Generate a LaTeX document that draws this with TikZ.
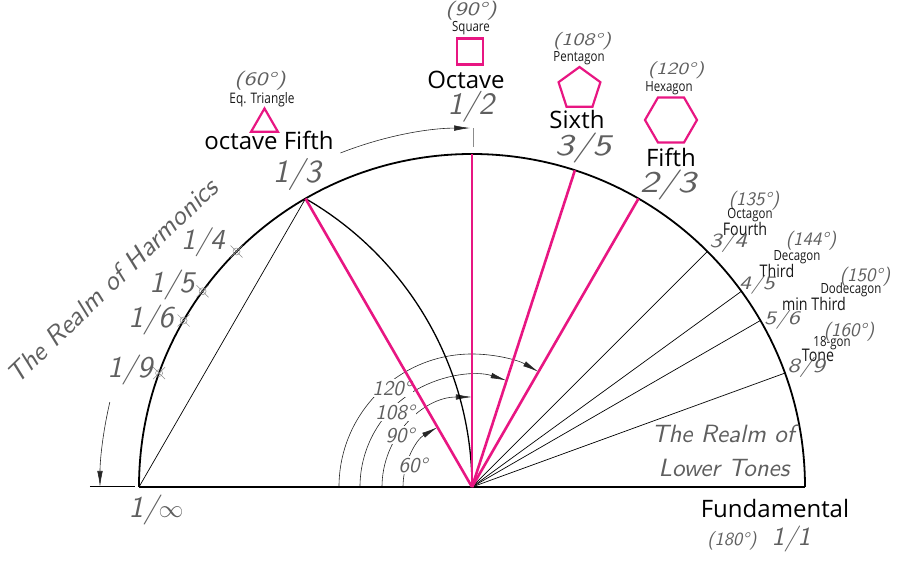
\documentclass[tikz,border=0pt]{standalone}
\usepackage{fontspec}
\setmainfont{Open Sans}
\newfontfamily\narrowsans{Open Sans}[FakeStretch=0.82]
\newfontfamily\hand{lmsans10-oblique.otf}
\newfontfamily\handw{lmsans10-oblique.otf}[FakeStretch=1.25]
\usetikzlibrary{arrows.meta,shapes.geometric}
\definecolor{mag}{RGB}{232,22,130}
\definecolor{pencil}{RGB}{95,95,95}
\begin{document}
\begin{tikzpicture}[x=1pt,y=1pt,
  hw/.style={font=\hand\fontsize{#1}{#1}\selectfont, text=pencil, inner sep=0pt},
  hww/.style={font=\handw\fontsize{#1}{#1}\selectfont, text=pencil, inner sep=0pt},
  lab/.style={font=\fontsize{#1}{#1}\selectfont, text=black, inner sep=0pt},
  nlab/.style={font=\narrowsans\fontsize{#1}{#1}\selectfont, text=black!90, inner sep=0pt},
  poly/.style={draw=mag, line width=2.2pt, regular polygon, regular polygon sides=#1, inner sep=0pt},
  magline/.style={draw=mag, line width=2.6pt},
  fine/.style={draw=black, line width=0.7pt},
  dim/.style={draw=black!85, line width=0.6pt},
  tipA/.style={-{Latex[length=16pt,width=5.5pt]}},
  mk/.style={draw=black!45, line width=0.5pt},
  gapfill/.style={fill=white, inner sep=1pt}
]
\useasboundingbox (-472,-74) rectangle (428,487);

% key points
\coordinate (C) at (0,0);
\coordinate (L) at (180:333);
\coordinate (Rt) at (0:333);
\foreach \a/\n in {120/p13, 90/p12, 72/p35, 60/p23, 45/p34, 36/p45, 30/p56, 20/p89,
                   135/m14, 144/m15, 150/m16, 160/m19}
  \coordinate (\n) at (\a:333);

% angle arcs around the centre
\draw[dim, tipA] (180:69)  arc[start angle=180, end angle=120, radius=69];
\draw[dim, tipA] (180:90)  arc[start angle=180, end angle=90,  radius=90];
\draw[dim, tipA] (180:112) arc[start angle=180, end angle=72,  radius=112];
\draw[dim, tipA] (180:133) arc[start angle=180, end angle=60,  radius=133];
\node[hw=21, gapfill] (a60)  at (-59,22) {60°};
\node[hw=21, gapfill] (a90)  at (-72,52) {90°};
\node[hw=21, gapfill] (a108) at (-77,75) {108°};
\node[hw=21, gapfill] (a120) at (-80,99) {120°};

% main semicircle and base
\draw[line width=1.8pt] (Rt) arc[start angle=0, end angle=180, radius=333];
\draw[line width=1.8pt] (L) -- (Rt);
% arc from 1/3 down to the centre (centred at the left end)
\draw[line width=1.3pt] (p13) arc[start angle=60, end angle=0, radius=333];

% thin chords/rays
\draw[fine] (L) -- (p13);
\foreach \n in {p34,p45,p56,p89} \draw[fine] (C) -- (\n);

% magenta rays
\foreach \n in {p13,p12,p35,p23} \draw[magline] (C) -- (\n);

% markers on the left arc
\foreach \n in {m14,m15,m16,m19} {
  \draw[mk] (\n) circle[radius=3.5];
  \draw[mk] ([shift={(-6,-6)}]\n) -- ([shift={(6,6)}]\n);
  \draw[mk] ([shift={(-6,6)}]\n) -- ([shift={(6,-6)}]\n);
}

% dimension arrow to 1/2
\coordinate (tickA) at (1,340);
\coordinate (tickB) at (1,359);
\draw[black!45, line width=0.8pt] (tickA) -- (tickB);
\draw[dim, tipA] (111.5:359) arc[start angle=111.5, end angle=90.3, radius=359];

% dimension arrow on the left
\coordinate (extA) at (-382,0.5);
\coordinate (extB) at (-337,0.5);
\draw[fine] (extA) -- (extB);
\draw[dim, tipA] (166.8:372) arc[start angle=166.8, end angle=180, radius=372];

% left labels
\node[hw=27, rotate=44] (realmH) at (-360,206) {The Realm of Harmonics};
\node[hw=30] (l1inf) at (-316,-23) {1/$\infty$};
\node[hw=32] (l13) at (-175,312) {1/3};
\node[hw=29] (l14) at (-269,245) {1/4};
\node[hw=30] (l15) at (-300,202) {1/5};
\node[hw=30] (l16) at (-321,167) {1/6};
\node[hw=30] (l19) at (-342,117) {1/9};

% triangle group
\node[hww=19] (d60) at (-212,406) {(60°)};
\node[nlab=14.5] (tEq) at (-210,387) {Eq. Triangle};
\node[poly=3, minimum size=31pt] (tri) at (-207.5,363) {};
\node[lab=24] (tOF) at (-203,347) {octave Fifth};

% square group
\node[hww=19] (d90) at (-1,476) {(90°)};
\node[nlab=14] (tSq) at (-1,459) {Square};
\node[draw=mag, line width=2.2pt, minimum size=26pt, inner sep=0pt] (sq) at (-2,435.5) {};
\node[lab=24] (tOct) at (-6,407) {Octave};
\node[hw=31] (l12) at (-1,380) {1/2};

% pentagon group
\node[hww=17.5] (d108) at (110,446) {(108°)};
\node[nlab=14] (tPent) at (107,429) {Pentagon};
\node[poly=5, minimum size=44pt] (pent) at (107.5,398) {};
\node[lab=24] (tSix) at (105,367) {Sixth};
\node[hww=30] (l35) at (111,339) {3/5};

% hexagon group
\node[hww=17] (d120) at (204,417) {(120°)};
\node[nlab=14] (tHex) at (197,399) {Hexagon};
\node[poly=6, minimum size=52pt] (hex) at (199,367) {};
\node[lab=24] (tFif) at (199,330) {Fifth};
\node[hww=30] (l23) at (196,302) {2/3};

% right side labels
\node[hw=19] (d135) at (282,286) {(135°)};
\node[nlab=14] (tOcta) at (278,272) {Octagon};
\node[nlab=17.4] (tFour) at (273,258) {Fourth};
\node[hww=20] (l34) at (256,244) {3/4};

\node[hw=19] (d144) at (339,246) {(144°)};
\node[nlab=14] (tDec) at (325,230) {Decagon};
\node[nlab=17.4] (tThird) at (305,216) {Third};
\node[hww=19] (l45) at (285,202) {4/5};

\node[hw=19] (d150) at (393,210) {(150°)};
\node[nlab=14] (tDod) at (379,197) {Dodecagon};
\node[nlab=17.4] (tmin) at (342,183) {min Third};
\node[hww=19] (l56) at (310,167) {5/6};

\node[hw=19] (d160) at (377,155) {(160°)};
\node[nlab=14] (t18) at (360,144) {18-gon};
\node[nlab=17.4] (tTone) at (346,132) {Tone};
\node[hww=20] (l89) at (334,119) {8/9};

% lower right
\node[hw=25] (realmL1) at (251,53) {The Realm of};
\node[hw=25] (realmL2) at (252,19) {Lower Tones};
\node[lab=24] (tFund) at (303,-22) {Fundamental};
\node[hw=18.5] (d180) at (260,-54) {(180°)};
\node[hw=26] (l11) at (319,-52) {1/1};
\end{tikzpicture}
\end{document}
